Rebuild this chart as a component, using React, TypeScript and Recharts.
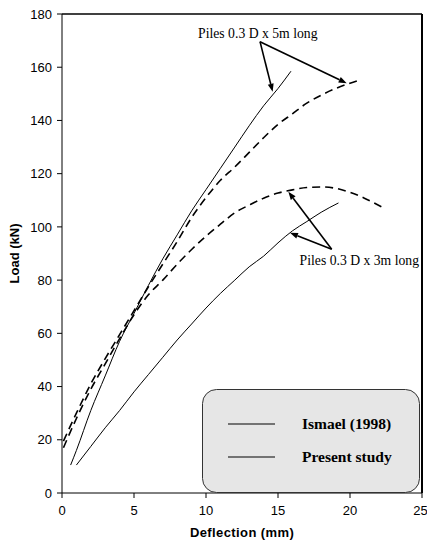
import React from "react";
import { LineChart, Line, XAxis, YAxis, ReferenceLine, ReferenceDot } from "recharts";

// load–deflection curves (x = deflection mm, y = load kN)
const ismael5m = [
  { x: 0.1, y: 19.5 }, { x: 1, y: 30 }, { x: 2, y: 41 }, { x: 3, y: 50.5 }, { x: 4, y: 59.5 },
  { x: 5, y: 68.5 }, { x: 6, y: 77.5 }, { x: 7, y: 86 }, { x: 8, y: 94.5 }, { x: 9, y: 103.5 },
  { x: 10, y: 111 }, { x: 11, y: 117.5 }, { x: 12, y: 122.5 }, { x: 13, y: 128 }, { x: 14, y: 133.5 },
  { x: 15, y: 138.5 }, { x: 16, y: 142.5 }, { x: 17, y: 146.5 }, { x: 18, y: 149.5 }, { x: 19, y: 152 },
  { x: 20, y: 154 }, { x: 20.7, y: 155.2 },
];

const ismael3m = [
  { x: 0.1, y: 17 }, { x: 1, y: 28 }, { x: 2, y: 39 }, { x: 3, y: 48.5 }, { x: 4, y: 58 },
  { x: 5, y: 67 }, { x: 6, y: 74.5 }, { x: 7, y: 80 }, { x: 8, y: 86 }, { x: 9, y: 91.5 },
  { x: 10, y: 96.5 }, { x: 11, y: 101 }, { x: 12, y: 105.3 }, { x: 13, y: 108.2 }, { x: 14, y: 110.8 },
  { x: 15, y: 112.7 }, { x: 16, y: 113.9 }, { x: 17, y: 114.8 }, { x: 18, y: 115 }, { x: 19, y: 114.5 },
  { x: 20, y: 113 }, { x: 21, y: 110.8 }, { x: 22.2, y: 107.5 },
];

const present5m = [
  { x: 0.6, y: 10.5 }, { x: 1, y: 16 }, { x: 2, y: 31 }, { x: 3, y: 44 }, { x: 4, y: 57 },
  { x: 5, y: 67.5 }, { x: 6, y: 78 }, { x: 7, y: 88 }, { x: 8, y: 97 }, { x: 9, y: 106 },
  { x: 10, y: 114 }, { x: 11, y: 122 }, { x: 12, y: 130 }, { x: 13, y: 138 }, { x: 14, y: 145.5 },
  { x: 15, y: 152 }, { x: 15.9, y: 158.5 },
];

const present3m = [
  { x: 1, y: 10.5 }, { x: 2, y: 17.5 }, { x: 3, y: 24.5 }, { x: 4, y: 31 }, { x: 5, y: 38 },
  { x: 6, y: 44.5 }, { x: 7, y: 51 }, { x: 8, y: 57.5 }, { x: 9, y: 63.5 }, { x: 10, y: 69.5 },
  { x: 11, y: 75 }, { x: 12, y: 80 }, { x: 13, y: 85 }, { x: 14, y: 89 }, { x: 15, y: 94 },
  { x: 16, y: 98.5 }, { x: 17, y: 102 }, { x: 18, y: 105.5 }, { x: 19.2, y: 109 },
];

const xTicks = [0, 5, 10, 15, 20, 25];
const yTicks = [0, 20, 40, 60, 80, 100, 120, 140, 160, 180];

const note5m = "Piles 0.3 D x 5m long";
const note3m = "Piles 0.3 D x 3m long";
const legendNames = ["Ismael (1998)", "Present study"];

// arrows: [from, to] in data units
const arrows = [
  [{ x: 13.75, y: 169.6 }, { x: 14.63, y: 150.8 }],
  [{ x: 13.75, y: 169.6 }, { x: 19.77, y: 154.0 }],
  [{ x: 18.73, y: 91.6 }, { x: 15.72, y: 113.2 }],
  [{ x: 18.73, y: 91.6 }, { x: 15.83, y: 97.8 }],
];

const sans = "Arial, 'Liberation Sans', sans-serif";
const serif = "'Times New Roman', 'Liberation Serif', serif";

const Arrow = (p: any) => {
  const { x1, y1, x2, y2 } = p;
  const a = Math.atan2(y2 - y1, x2 - x1);
  const len = 8;
  const w = 3;
  const bx = x2 - len * Math.cos(a);
  const by = y2 - len * Math.sin(a);
  const nx = -Math.sin(a) * w;
  const ny = Math.cos(a) * w;
  return (
    <g>
      <line x1={x1} y1={y1} x2={bx} y2={by} stroke="#000" strokeWidth={1.6} />
      <polygon points={`${x2},${y2} ${bx + nx},${by + ny} ${bx - nx},${by - ny}`} fill="#000" />
    </g>
  );
};

const Note = (text: string) => (p: any) => (
  <text x={p.cx} y={p.cy} fontFamily={serif} fontSize={13.7} fill="#000">
    {text}
  </text>
);

export default function App() {
  return (
    <div style={{ position: "absolute", left: 0, top: 0, width: 427, height: 545, background: "#fff" }}>
      <LineChart width={427} height={545} margin={{ top: 14, right: 5, bottom: 22, left: 12 }}>
        <XAxis
          type="number"
          dataKey="x"
          domain={[0, 25]}
          ticks={xTicks}
          allowDataOverflow
          height={30}
          tickSize={5}
          tickMargin={8}
          axisLine={{ stroke: "#000" }}
          tickLine={{ stroke: "#000" }}
          tick={{ fill: "#000", fontSize: 13, fontFamily: sans }}
          label={{
            content: ({ viewBox }: any) => (
              <text x={viewBox.x + viewBox.width / 2} y={viewBox.y + 44} textAnchor="middle" fontFamily={sans} fontSize={13} fontWeight="bold" letterSpacing={0.4} fill="#000">
                Deflection (mm)
              </text>
            ),
          }}
        />
        <YAxis
          type="number"
          domain={[0, 180]}
          ticks={yTicks}
          allowDataOverflow
          width={50}
          tickSize={5}
          tickMargin={5}
          axisLine={{ stroke: "#000" }}
          tickLine={{ stroke: "#000" }}
          tick={{ fill: "#000", fontSize: 13, fontFamily: sans }}
          label={{
            content: ({ viewBox }: any) => {
              const cx = viewBox.x + 7;
              const cy = viewBox.y + viewBox.height / 2;
              return (
                <text x={cx} y={cy} transform={`rotate(-90 ${cx} ${cy})`} textAnchor="middle" fontFamily={sans} fontSize={13} fontWeight="bold" fill="#000">
                  Load (kN)
                </text>
              );
            },
          }}
        />
        <ReferenceLine y={180} stroke="#000" strokeWidth={1.5} />
        <ReferenceLine x={25} stroke="#000" strokeWidth={2} />
        <Line data={ismael5m} dataKey="y" type="monotone" stroke="#000" strokeWidth={1.6} strokeDasharray="8 5" dot={false} isAnimationActive={false} />
        <Line data={ismael3m} dataKey="y" type="monotone" stroke="#000" strokeWidth={1.6} strokeDasharray="8 5" dot={false} isAnimationActive={false} />
        <Line data={present5m} dataKey="y" type="monotone" stroke="#000" strokeWidth={1} dot={false} isAnimationActive={false} />
        <Line data={present3m} dataKey="y" type="monotone" stroke="#000" strokeWidth={1} dot={false} isAnimationActive={false} />
        {arrows.map((s, i) => (
          <ReferenceLine key={i} segment={s} shape={Arrow} />
        ))}
        <ReferenceDot x={9.45} y={171} r={0} shape={Note(note5m)} />
        <ReferenceDot x={16.5} y={85.7} r={0} shape={Note(note3m)} />
      </LineChart>
      <svg width={218} height={104} style={{ position: "absolute", left: 202, top: 389 }}>
        <rect x={0.5} y={0.5} width={217} height={103} rx={14} ry={14} fill="#e6e6e6" stroke="#333" strokeWidth={1} />
        {legendNames.map((n, i) => (
          <g key={n}>
            <line x1={26} x2={73} y1={35 + i * 33} y2={35 + i * 33} stroke="#000" strokeWidth={1} />
            <text x={100} y={40 + i * 33} fontFamily={serif} fontSize={15.5} fontWeight="bold" fill="#000">
              {n}
            </text>
          </g>
        ))}
      </svg>
    </div>
  );
}
